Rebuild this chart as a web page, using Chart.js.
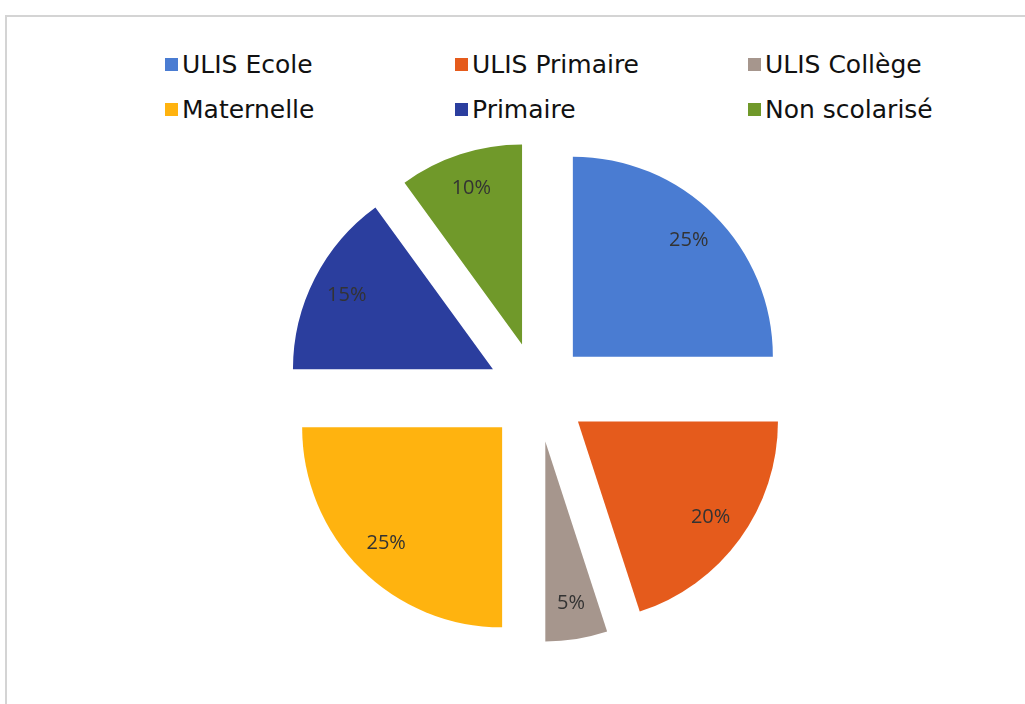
<!DOCTYPE html>
<html lang="fr">
<head>
  <meta charset="UTF-8" />
  <title>Répartition</title>
  <script src="https://cdn.jsdelivr.net/npm/chart.js"></script>
  <style>
    body {
      margin: 0;
      background: #fff;
      width: 1025px;
      height: 704px;
      overflow: hidden;
      position: relative;
    }
    .cadre {
      position: absolute;
      left: 5px;
      top: 15px;
      width: 1030px;
      height: 700px;
      border-top: 2px solid #d4d4d4;
      border-left: 2px solid #d4d4d4;
    }
    #legende {
      position: absolute;
      left: 165px;
      top: 42px;
      display: grid;
      grid-template-columns: 290px 293px auto;
      grid-auto-rows: 45px;
      font-family: "DejaVu Sans", sans-serif;
      font-size: 25px;
      color: #111;
    }
    #legende div {
      display: flex;
      align-items: center;
    }
    #legende span.carre {
      width: 13px;
      height: 13px;
      margin-right: 4px;
      display: inline-block;
    }
    #zone {
      position: absolute;
      left: 0;
      top: 0;
      width: 1025px;
      height: 704px;
    }
  </style>
</head>
<body>
  <div class="cadre"></div>
  <div id="legende"></div>
  <div id="zone"><canvas id="graphique"></canvas></div>

  <script>
    const categories = ['ULIS Ecole', 'ULIS Primaire', 'ULIS Collège', 'Maternelle', 'Primaire', 'Non scolarisé'];
    const pourcentages = [25, 20, 5, 25, 15, 10];
    const couleurs = ['#4a7cd2', '#e55b1c', '#a6968d', '#ffb30f', '#2b3e9e', '#70992a'];
    const ecart = 50; // décalage des parts (px)

    // légende en grille (3 colonnes)
    const legende = document.getElementById('legende');
    categories.forEach((nom, i) => {
      legende.innerHTML += `<div><span class="carre" style="background:${couleurs[i]}"></span>${nom}</div>`;
    });

    // parts éclatées : simple translation de chaque arc
    const eclate = {
      id: 'eclate',
      beforeDatasetsDraw(chart) {
        const ctx = chart.ctx;
        chart.getDatasetMeta(0).data.forEach(arc => {
          const mid = (arc.startAngle + arc.endAngle) / 2;
          ctx.save();
          ctx.translate(Math.cos(mid) * ecart, Math.sin(mid) * ecart);
          arc.draw(ctx);
          ctx.restore();
        });
        return false;
      },
      afterDraw(chart) {
        const ctx = chart.ctx;
        ctx.save();
        ctx.font = '20px "Open Sans", sans-serif';
        ctx.fillStyle = '#333';
        ctx.textAlign = 'center';
        ctx.textBaseline = 'middle';
        chart.getDatasetMeta(0).data.forEach((arc, i) => {
          const mid = (arc.startAngle + arc.endAngle) / 2;
          const d = ecart + arc.outerRadius * 0.82;
          ctx.fillText(pourcentages[i] + '%', arc.x + Math.cos(mid) * d, arc.y + Math.sin(mid) * d);
        });
        ctx.restore();
      }
    };

    new Chart(document.getElementById('graphique'), {
      type: 'pie',
      data: {
        labels: categories,
        datasets: [{
          data: pourcentages,
          backgroundColor: couleurs,
          borderWidth: 0,
          hoverOffset: 0
        }]
      },
      options: {
        responsive: true,
        maintainAspectRatio: false,
        animation: false,
        radius: 200,
        layout: { padding: { left: 50, top: 80 } },
        plugins: {
          legend: { display: false },
          tooltip: { enabled: false }
        }
      },
      plugins: [eclate]
    });
  </script>
</body>
</html>
